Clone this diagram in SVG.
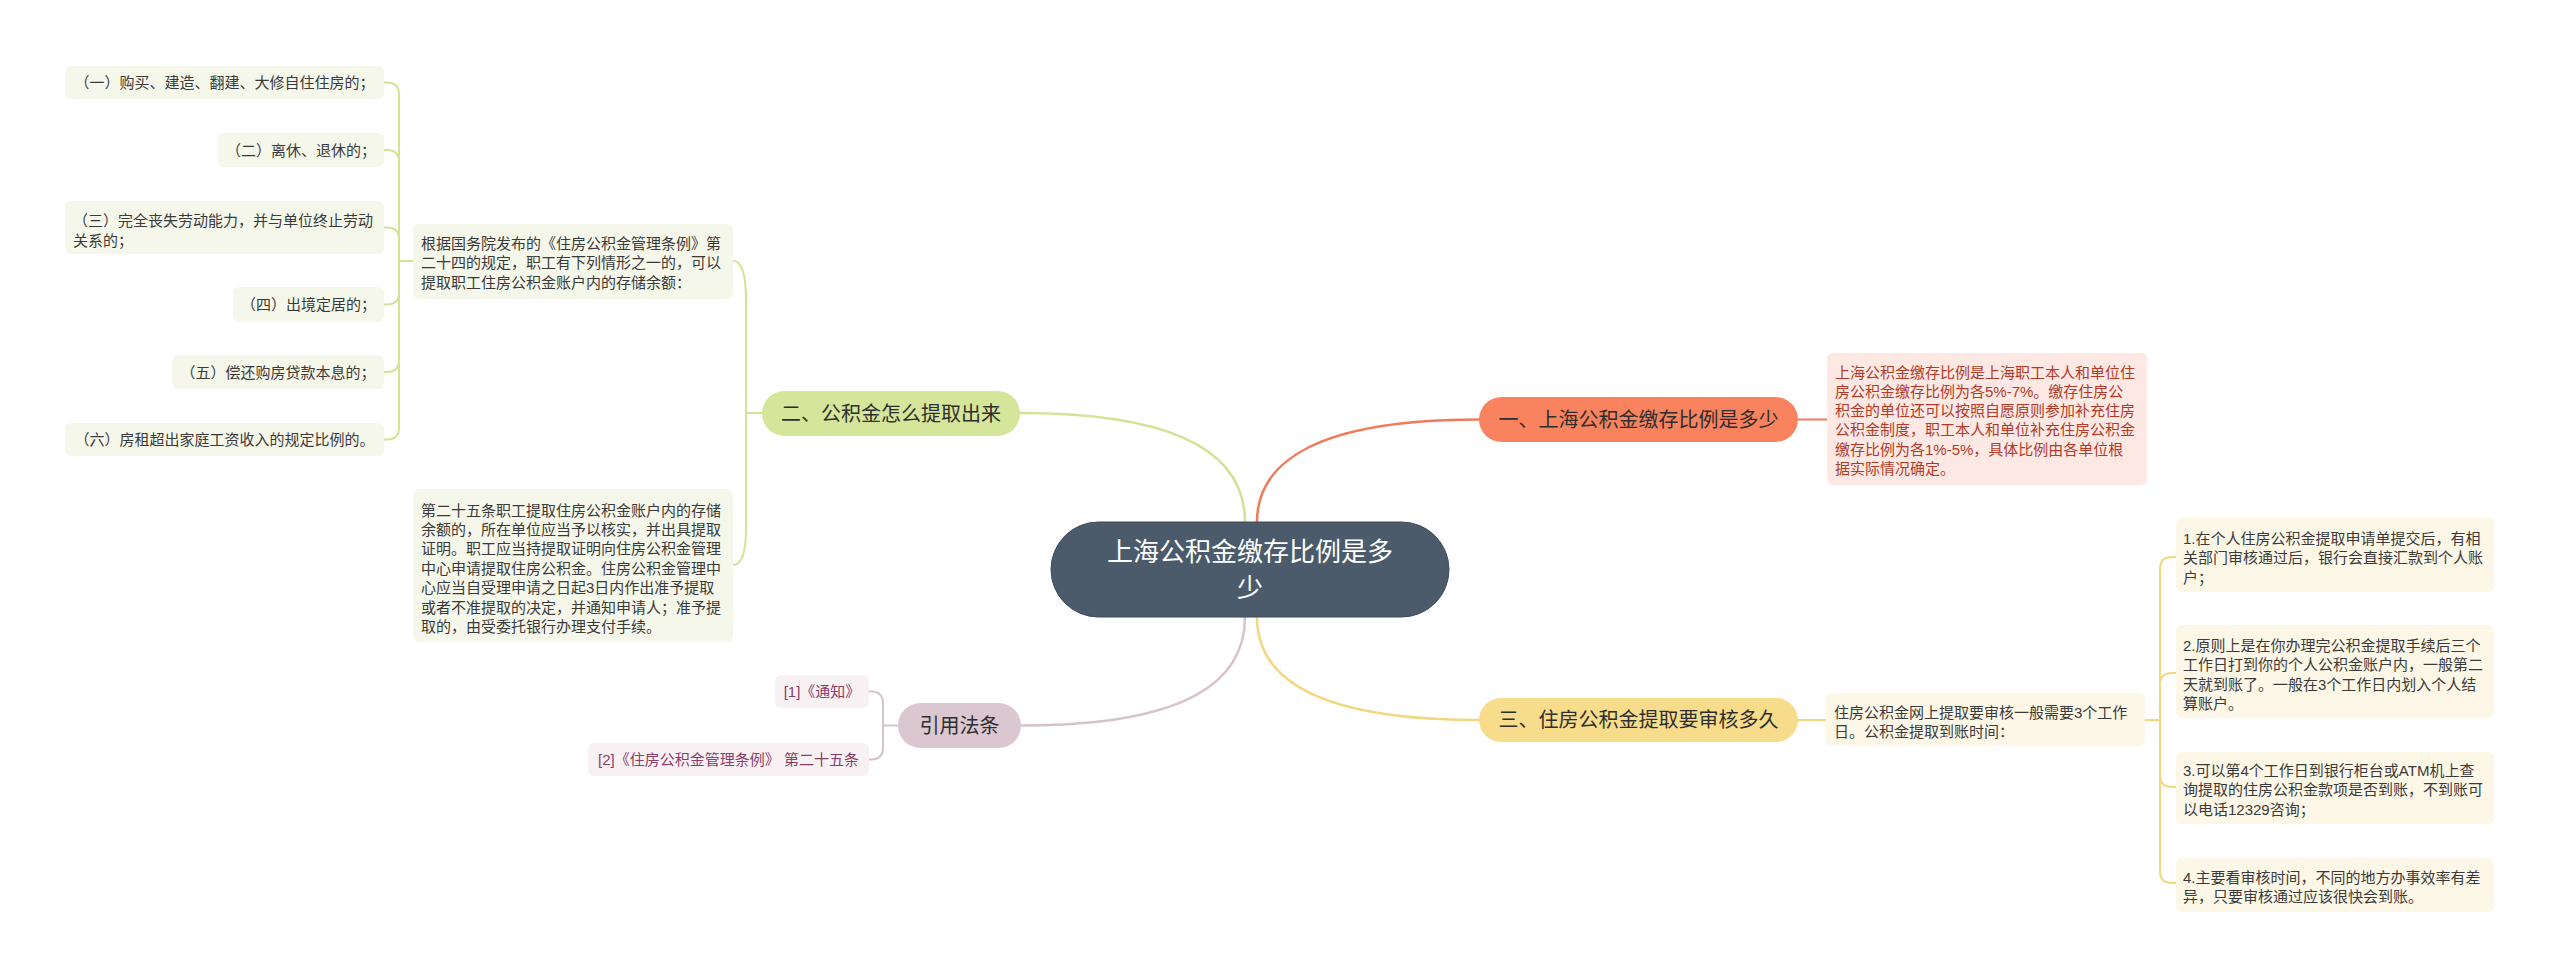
<svg xmlns="http://www.w3.org/2000/svg" width="2560" height="977" viewBox="0 0 2560 977">
<style>
text{font-family:"Liberation Sans","Noto Sans CJK SC",sans-serif;dominant-baseline:central}
.leaf{font-size:15px;fill:#3a3a3a}
.c{text-anchor:middle}
.br{font-size:20px;fill:#2e2e2e;text-anchor:middle}
.gbox{fill:#f5f7ea}
.ybox{fill:#fdf7e7}
.pbox{fill:#f8f1f4}
.rbox{fill:#fde8e4}
.red{fill:#b23b28}
.pur{fill:#8b3d68}
.ln{fill:none;stroke-width:2;stroke-linecap:round}
.g{stroke:#d3e294}.r{stroke:#ef7b5d}.y{stroke:#f3d77f}.p{stroke:#d6c4cd}
.main{stroke-width:2.5}
</style>
<rect width="2560" height="977" fill="#ffffff"/>
<g id="connectors">
<path class="ln g main" d="M1245 522 C1245 460 1190 413 1020 413"/>
<path class="ln r main" d="M1257 522 C1257 460 1320 419.5 1479 419.5"/>
<path class="ln y main" d="M1257 617 C1257 680 1320 720 1479 720"/>
<path class="ln p main" d="M1245 617 C1245 680 1190 725.5 1021 725.5"/>
<path class="ln r" d="M1798 419.5 H1827"/>
<path class="ln y" d="M1798 720 H1826"/>
<path class="ln g" d="M762 413 H746 M746 413 V300 C746 275 742 261 733 261 M746 413 V528 C746 552 742 565 733 565"/>
<path class="ln g" d="M413 261 H399 M399 261 V94.5 Q399 82.5 387 82.5 H384 M399 261 V162 Q399 150 387 150 H384 M399 261 V239.5 Q399 227.5 387 227.5 H384 M399 261 V292.5 Q399 304.5 387 304.5 H384 M399 261 V360 Q399 372 387 372 H384 M399 261 V427.5 Q399 439.5 387 439.5 H384"/>
<path class="ln p" d="M898 725.5 H883 M883 725.5 V703.5 Q883 691.5 871 691.5 H869 M883 725.5 V747.5 Q883 759.5 871 759.5 H869"/>
<path class="ln y" d="M2145 720 H2160 M2160 720 V569 Q2160 557 2172 557 H2176 M2160 720 V685 Q2160 673 2172 673 H2176 M2160 720 V775 Q2160 787 2172 787 H2176 M2160 720 V871 Q2160 883 2172 883 H2176"/>
</g>
<g id="central">
<rect x="1051" y="522" width="398" height="95" rx="47.5" fill="#4b5b6b" stroke="#3f4d5b" stroke-width="1"/>
<text x="1250" y="552" font-size="26" fill="#ffffff" text-anchor="middle">上海公积金缴存比例是多</text>
<text x="1250" y="588" font-size="26" fill="#ffffff" text-anchor="middle">少</text>
</g>
<g id="branch1">
<rect x="1479" y="397" width="319" height="45" rx="22.5" fill="#f9825f"/>
<text class="br" x="1638.5" y="419.5">一、上海公积金缴存比例是多少</text>
</g>
<g id="branch2">
<rect x="762" y="391" width="258" height="45" rx="22.5" fill="#d5e599"/>
<text class="br" x="891" y="413.5">二、公积金怎么提取出来</text>
</g>
<g id="branch3">
<rect x="1479" y="698" width="319" height="44" rx="22" fill="#f7dc8b"/>
<text class="br" x="1638.5" y="720">三、住房公积金提取要审核多久</text>
</g>
<g id="branch4">
<rect x="898" y="703" width="123" height="45" rx="22.5" fill="#dac7d0"/>
<text class="br" x="959.5" y="725.5">引用法条</text>
</g>
<g id="red-text">
<rect class="rbox" x="1827" y="353" width="320" height="132" rx="6"/>
<text class="leaf red" x="1835" y="372">上海公积金缴存比例是上海职工本人和单位住</text>
<text class="leaf red" x="1835" y="391.3">房公积金缴存比例为各5%-7%。缴存住房公</text>
<text class="leaf red" x="1835" y="410.6">积金的单位还可以按照自愿原则参加补充住房</text>
<text class="leaf red" x="1835" y="429.9">公积金制度，职工本人和单位补充住房公积金</text>
<text class="leaf red" x="1835" y="449.2">缴存比例为各1%-5%，具体比例由各单位根</text>
<text class="leaf red" x="1835" y="468.5">据实际情况确定。</text>
</g>
<g id="withdraw-rule">
<rect class="gbox" x="413" y="224" width="320" height="75" rx="6"/>
<text class="leaf" x="421" y="243">根据国务院发布的《住房公积金管理条例》第</text>
<text class="leaf" x="421" y="262.5">二十四的规定，职工有下列情形之一的，可以</text>
<text class="leaf" x="421" y="282">提取职工住房公积金账户内的存储余额：</text>
</g>
<g id="article25">
<rect class="gbox" x="413" y="489" width="320" height="153" rx="6"/>
<text class="leaf" x="421" y="510">第二十五条职工提取住房公积金账户内的存储</text>
<text class="leaf" x="421" y="529.4">余额的，所在单位应当予以核实，并出具提取</text>
<text class="leaf" x="421" y="548.8">证明。职工应当持提取证明向住房公积金管理</text>
<text class="leaf" x="421" y="568.2">中心申请提取住房公积金。住房公积金管理中</text>
<text class="leaf" x="421" y="587.6">心应当自受理申请之日起3日内作出准予提取</text>
<text class="leaf" x="421" y="607">或者不准提取的决定，并通知申请人；准予提</text>
<text class="leaf" x="421" y="626.4">取的，由受委托银行办理支付手续。</text>
</g>
<g id="case1">
<rect class="gbox" x="65" y="66" width="319" height="33" rx="6"/>
<text class="leaf c" x="224.5" y="82.5">（一）购买、建造、翻建、大修自住住房的；</text>
</g>
<g id="case2">
<rect class="gbox" x="218" y="133" width="166" height="34" rx="6"/>
<text class="leaf c" x="301" y="150">（二）离休、退休的；</text>
</g>
<g id="case3">
<rect class="gbox" x="65" y="201" width="319" height="53" rx="6"/>
<text class="leaf" x="73" y="220">（三）完全丧失劳动能力，并与单位终止劳动</text>
<text class="leaf" x="73" y="240">关系的；</text>
</g>
<g id="case4">
<rect class="gbox" x="233" y="287" width="151" height="35" rx="6"/>
<text class="leaf c" x="308.5" y="304.5">（四）出境定居的；</text>
</g>
<g id="case5">
<rect class="gbox" x="172" y="355" width="212" height="34" rx="6"/>
<text class="leaf c" x="278" y="372">（五）偿还购房贷款本息的；</text>
</g>
<g id="case6">
<rect class="gbox" x="65" y="423" width="319" height="33" rx="6"/>
<text class="leaf c" x="224.5" y="439.5">（六）房租超出家庭工资收入的规定比例的。</text>
</g>
<g id="audit-intro">
<rect class="ybox" x="1826" y="693" width="319" height="53" rx="6"/>
<text class="leaf" x="1834" y="712">住房公积金网上提取要审核一般需要3个工作</text>
<text class="leaf" x="1834" y="731.5">日。公积金提取到账时间：</text>
</g>
<g id="step1">
<rect class="ybox" x="2176" y="518" width="318" height="74" rx="6"/>
<text class="leaf" x="2183" y="538">1.在个人住房公积金提取申请单提交后，有相</text>
<text class="leaf" x="2183" y="557.5">关部门审核通过后，银行会直接汇款到个人账</text>
<text class="leaf" x="2183" y="577">户；</text>
</g>
<g id="step2">
<rect class="ybox" x="2176" y="625" width="318" height="93" rx="6"/>
<text class="leaf" x="2183" y="645">2.原则上是在你办理完公积金提取手续后三个</text>
<text class="leaf" x="2183" y="664.5">工作日打到你的个人公积金账户内，一般第二</text>
<text class="leaf" x="2183" y="684">天就到账了。一般在3个工作日内划入个人结</text>
<text class="leaf" x="2183" y="703.5">算账户。</text>
</g>
<g id="step3">
<rect class="ybox" x="2176" y="752" width="318" height="72" rx="6"/>
<text class="leaf" x="2183" y="770">3.可以第4个工作日到银行柜台或ATM机上查</text>
<text class="leaf" x="2183" y="789.5">询提取的住房公积金款项是否到账，不到账可</text>
<text class="leaf" x="2183" y="809">以电话12329咨询；</text>
</g>
<g id="step4">
<rect class="ybox" x="2176" y="858" width="318" height="54" rx="6"/>
<text class="leaf" x="2183" y="877">4.主要看审核时间，不同的地方办事效率有差</text>
<text class="leaf" x="2183" y="896.5">异，只要审核通过应该很快会到账。</text>
</g>
<g id="ref1">
<rect class="pbox" x="775" y="675" width="94" height="33" rx="6"/>
<text class="leaf c pur" x="822" y="691.5">[1]《通知》</text>
</g>
<g id="ref2">
<rect class="pbox" x="588" y="743" width="281" height="33" rx="6"/>
<text class="leaf c pur" x="728.5" y="759.5">[2]《住房公积金管理条例》 第二十五条</text>
</g>
</svg>
